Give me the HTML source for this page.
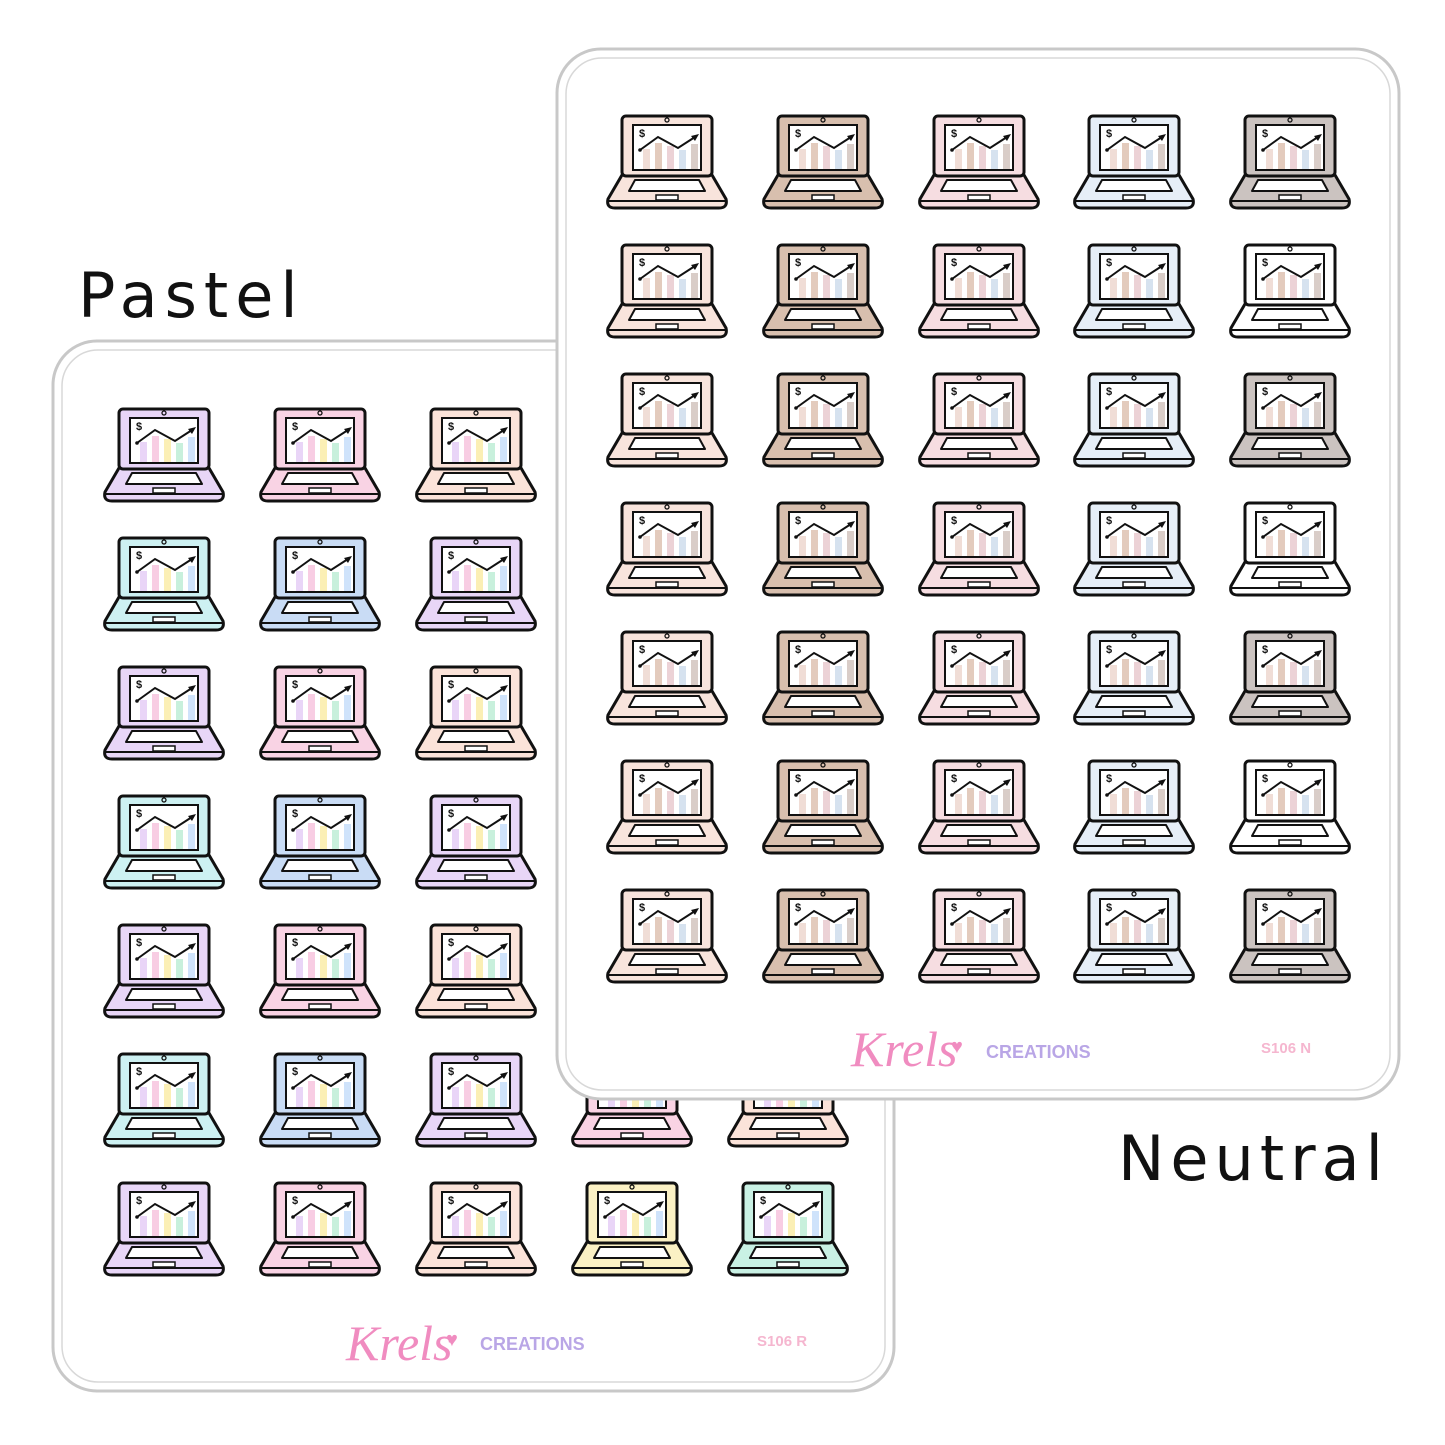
<!DOCTYPE html>
<html><head><meta charset="utf-8"><style>
html,body{margin:0;padding:0;background:#fff;width:1445px;height:1445px;overflow:hidden}
text{font-family:"Liberation Sans",sans-serif}
.d{font-size:11px;font-weight:bold;fill:#111}
</style></head><body>
<svg width="1445" height="1445" viewBox="0 0 1445 1445" xmlns="http://www.w3.org/2000/svg">
<defs>
<g id="body">
<path d="M15,62 L105,62 L119,86 Q121,95 112,95 L8,95 Q-1,95 1,86 Z" fill="currentColor" stroke="#111" stroke-width="3" stroke-linejoin="round"/>
<line x1="2" y1="88" x2="118" y2="88" stroke="#111" stroke-width="2"/>
<rect x="15" y="3" width="90" height="60" rx="4" fill="currentColor" stroke="#111" stroke-width="3"/>
<rect x="26" y="12" width="68" height="45" fill="#fff" stroke="#111" stroke-width="2"/>
<circle cx="60" cy="7" r="2" fill="none" stroke="#111" stroke-width="1.3"/>
<path d="M28,67 L92,67 L98,78 L22,78 Z" fill="#fff" stroke="#111" stroke-width="2" stroke-linejoin="round"/>
<rect x="49" y="82" width="22" height="5" fill="#fff" stroke="#111" stroke-width="1.5"/>
</g>
<g id="chart">
<polyline points="33,37 51,24 71,35 88,24" fill="none" stroke="#111" stroke-width="2"/>
<polygon points="92,21 84,23 88,28" fill="#111"/>
<circle cx="33" cy="37" r="1.8" fill="#111"/>
</g>
<g id="lp">
<use href="#body"/>
<rect x="36" y="36" width="7" height="20" fill="#e9d5f7"/>
<rect x="48" y="30" width="7" height="26" fill="#f8cde3"/>
<rect x="60" y="33" width="7" height="23" fill="#fbefb5"/>
<rect x="72" y="37" width="7" height="19" fill="#c8f0dc"/>
<rect x="84" y="31" width="7" height="25" fill="#cfe3fb"/>
<use href="#chart"/>
</g>
<g id="ln">
<use href="#body"/>
<rect x="36" y="36" width="7" height="20" fill="#f0ddd6"/>
<rect x="48" y="30" width="7" height="26" fill="#e3cbbd"/>
<rect x="60" y="33" width="7" height="23" fill="#ecd2d6"/>
<rect x="72" y="37" width="7" height="19" fill="#d6e2ef"/>
<rect x="84" y="31" width="7" height="25" fill="#d9cdc8"/>
<use href="#chart"/>
</g>
</defs>

<text x="78" y="317" font-size="62" fill="#111" style="font-family:'DejaVu Sans',sans-serif;letter-spacing:7px">Pastel</text>
<text x="1118" y="1180" font-size="62" fill="#111" style="font-family:'DejaVu Sans',sans-serif;letter-spacing:6px">Neutral</text>

<!-- Pastel sheet -->
<rect x="53" y="341" width="841" height="1050" rx="44" fill="#fff" stroke="#c8c8c8" stroke-width="3"/>
<rect x="62" y="350" width="823" height="1032" rx="36" fill="#fff" stroke="#d8d8d8" stroke-width="1.5"/>

<g transform="translate(104,406)" style="color:#e8d6f7"><use href="#lp"/><text class="d" x="32" y="24">$</text></g>
<g transform="translate(260,406)" style="color:#f9d3e4"><use href="#lp"/><text class="d" x="32" y="24">$</text></g>
<g transform="translate(416,406)" style="color:#fbe3d9"><use href="#lp"/><text class="d" x="32" y="24">$</text></g>
<g transform="translate(104,535)" style="color:#cdf1f2"><use href="#lp"/><text class="d" x="32" y="24">$</text></g>
<g transform="translate(260,535)" style="color:#c9dcf5"><use href="#lp"/><text class="d" x="32" y="24">$</text></g>
<g transform="translate(416,535)" style="color:#e8d6f7"><use href="#lp"/><text class="d" x="32" y="24">$</text></g>
<g transform="translate(104,664)" style="color:#e8d6f7"><use href="#lp"/><text class="d" x="32" y="24">$</text></g>
<g transform="translate(260,664)" style="color:#f9d3e4"><use href="#lp"/><text class="d" x="32" y="24">$</text></g>
<g transform="translate(416,664)" style="color:#fbe3d9"><use href="#lp"/><text class="d" x="32" y="24">$</text></g>
<g transform="translate(104,793)" style="color:#cdf1f2"><use href="#lp"/><text class="d" x="32" y="24">$</text></g>
<g transform="translate(260,793)" style="color:#c9dcf5"><use href="#lp"/><text class="d" x="32" y="24">$</text></g>
<g transform="translate(416,793)" style="color:#e8d6f7"><use href="#lp"/><text class="d" x="32" y="24">$</text></g>
<g transform="translate(104,922)" style="color:#e8d6f7"><use href="#lp"/><text class="d" x="32" y="24">$</text></g>
<g transform="translate(260,922)" style="color:#f9d3e4"><use href="#lp"/><text class="d" x="32" y="24">$</text></g>
<g transform="translate(416,922)" style="color:#fbe3d9"><use href="#lp"/><text class="d" x="32" y="24">$</text></g>
<g transform="translate(104,1051)" style="color:#cdf1f2"><use href="#lp"/><text class="d" x="32" y="24">$</text></g>
<g transform="translate(260,1051)" style="color:#c9dcf5"><use href="#lp"/><text class="d" x="32" y="24">$</text></g>
<g transform="translate(416,1051)" style="color:#e8d6f7"><use href="#lp"/><text class="d" x="32" y="24">$</text></g>
<g transform="translate(572,1051)" style="color:#f9d3e4"><use href="#lp"/><text class="d" x="32" y="24">$</text></g>
<g transform="translate(728,1051)" style="color:#fbe3d9"><use href="#lp"/><text class="d" x="32" y="24">$</text></g>
<g transform="translate(104,1180)" style="color:#e8d6f7"><use href="#lp"/><text class="d" x="32" y="24">$</text></g>
<g transform="translate(260,1180)" style="color:#f9d3e4"><use href="#lp"/><text class="d" x="32" y="24">$</text></g>
<g transform="translate(416,1180)" style="color:#fbe3d9"><use href="#lp"/><text class="d" x="32" y="24">$</text></g>
<g transform="translate(572,1180)" style="color:#fbf1c4"><use href="#lp"/><text class="d" x="32" y="24">$</text></g>
<g transform="translate(728,1180)" style="color:#c9f1e4"><use href="#lp"/><text class="d" x="32" y="24">$</text></g>

<text x="346" y="1360" font-size="50" fill="#f08cc0" style="font-family:'Liberation Serif',serif;font-style:italic">Krels</text>
<text x="446" y="1346" font-size="20" fill="#f08cc0">♥</text>
<text x="480" y="1350" font-size="18" fill="#b9a6e6" font-weight="bold">CREATIONS</text>
<text x="757" y="1346" font-size="15" fill="#f5b6cf" font-weight="bold">S106 R</text>

<!-- Neutral sheet -->
<rect x="557" y="49" width="842" height="1050" rx="44" fill="#fff" stroke="#c8c8c8" stroke-width="3"/>
<rect x="566" y="58" width="824" height="1032" rx="36" fill="#fff" stroke="#d8d8d8" stroke-width="1.5"/>

<g transform="translate(607,113)" style="color:#f8e4dc"><use href="#ln"/><text class="d" x="32" y="24">$</text></g>
<g transform="translate(763,113)" style="color:#d8bfae"><use href="#ln"/><text class="d" x="32" y="24">$</text></g>
<g transform="translate(919,113)" style="color:#f6dde1"><use href="#ln"/><text class="d" x="32" y="24">$</text></g>
<g transform="translate(1074,113)" style="color:#e6eef7"><use href="#ln"/><text class="d" x="32" y="24">$</text></g>
<g transform="translate(1230,113)" style="color:#cbc3c0"><use href="#ln"/><text class="d" x="32" y="24">$</text></g>
<g transform="translate(607,242)" style="color:#f8e4dc"><use href="#ln"/><text class="d" x="32" y="24">$</text></g>
<g transform="translate(763,242)" style="color:#d8bfae"><use href="#ln"/><text class="d" x="32" y="24">$</text></g>
<g transform="translate(919,242)" style="color:#f6dde1"><use href="#ln"/><text class="d" x="32" y="24">$</text></g>
<g transform="translate(1074,242)" style="color:#e6eef7"><use href="#ln"/><text class="d" x="32" y="24">$</text></g>
<g transform="translate(1230,242)" style="color:#ffffff"><use href="#ln"/><text class="d" x="32" y="24">$</text></g>
<g transform="translate(607,371)" style="color:#f8e4dc"><use href="#ln"/><text class="d" x="32" y="24">$</text></g>
<g transform="translate(763,371)" style="color:#d8bfae"><use href="#ln"/><text class="d" x="32" y="24">$</text></g>
<g transform="translate(919,371)" style="color:#f6dde1"><use href="#ln"/><text class="d" x="32" y="24">$</text></g>
<g transform="translate(1074,371)" style="color:#e6eef7"><use href="#ln"/><text class="d" x="32" y="24">$</text></g>
<g transform="translate(1230,371)" style="color:#cbc3c0"><use href="#ln"/><text class="d" x="32" y="24">$</text></g>
<g transform="translate(607,500)" style="color:#f8e4dc"><use href="#ln"/><text class="d" x="32" y="24">$</text></g>
<g transform="translate(763,500)" style="color:#d8bfae"><use href="#ln"/><text class="d" x="32" y="24">$</text></g>
<g transform="translate(919,500)" style="color:#f6dde1"><use href="#ln"/><text class="d" x="32" y="24">$</text></g>
<g transform="translate(1074,500)" style="color:#e6eef7"><use href="#ln"/><text class="d" x="32" y="24">$</text></g>
<g transform="translate(1230,500)" style="color:#ffffff"><use href="#ln"/><text class="d" x="32" y="24">$</text></g>
<g transform="translate(607,629)" style="color:#f8e4dc"><use href="#ln"/><text class="d" x="32" y="24">$</text></g>
<g transform="translate(763,629)" style="color:#d8bfae"><use href="#ln"/><text class="d" x="32" y="24">$</text></g>
<g transform="translate(919,629)" style="color:#f6dde1"><use href="#ln"/><text class="d" x="32" y="24">$</text></g>
<g transform="translate(1074,629)" style="color:#e6eef7"><use href="#ln"/><text class="d" x="32" y="24">$</text></g>
<g transform="translate(1230,629)" style="color:#cbc3c0"><use href="#ln"/><text class="d" x="32" y="24">$</text></g>
<g transform="translate(607,758)" style="color:#f8e4dc"><use href="#ln"/><text class="d" x="32" y="24">$</text></g>
<g transform="translate(763,758)" style="color:#d8bfae"><use href="#ln"/><text class="d" x="32" y="24">$</text></g>
<g transform="translate(919,758)" style="color:#f6dde1"><use href="#ln"/><text class="d" x="32" y="24">$</text></g>
<g transform="translate(1074,758)" style="color:#e6eef7"><use href="#ln"/><text class="d" x="32" y="24">$</text></g>
<g transform="translate(1230,758)" style="color:#ffffff"><use href="#ln"/><text class="d" x="32" y="24">$</text></g>
<g transform="translate(607,887)" style="color:#f8e4dc"><use href="#ln"/><text class="d" x="32" y="24">$</text></g>
<g transform="translate(763,887)" style="color:#d8bfae"><use href="#ln"/><text class="d" x="32" y="24">$</text></g>
<g transform="translate(919,887)" style="color:#f6dde1"><use href="#ln"/><text class="d" x="32" y="24">$</text></g>
<g transform="translate(1074,887)" style="color:#e6eef7"><use href="#ln"/><text class="d" x="32" y="24">$</text></g>
<g transform="translate(1230,887)" style="color:#cbc3c0"><use href="#ln"/><text class="d" x="32" y="24">$</text></g>

<text x="851" y="1066" font-size="50" fill="#f08cc0" style="font-family:'Liberation Serif',serif;font-style:italic">Krels</text>
<text x="951" y="1053" font-size="20" fill="#f08cc0">♥</text>
<text x="986" y="1058" font-size="18" fill="#b9a6e6" font-weight="bold">CREATIONS</text>
<text x="1261" y="1053" font-size="15" fill="#f5b6cf" font-weight="bold">S106 N</text>
</svg>
</body></html>
